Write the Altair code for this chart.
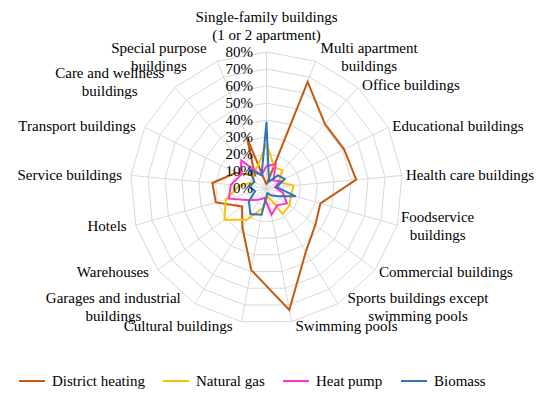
import math
import altair as alt
import pandas as pd

categories = [
    "Single-family buildings\n(1 or 2 apartment)",
    "Multi apartment\nbuildings",
    "Office buildings",
    "Educational buildings",
    "Health care buildings",
    "Foodservice\nbuildings",
    "Commercial buildings",
    "Sports buildings except\nswimming pools",
    "Swimming pools",
    "Cultural buildings",
    "Garages and industrial\nbuildings",
    "Warehouses",
    "Hotels",
    "Service buildings",
    "Transport buildings",
    "Care and wellness\nbuildings",
    "Special purpose\nbuildings",
]
series_names = ["District heating", "Natural gas", "Heat pump", "Biomass"]
district_heating = [2, 67, 51, 51, 53, 33, 36, 44, 73, 49, 27, 18, 31, 32, 20, 10, 32]
natural_gas = [26, 13, 14, 8, 16, 15, 17, 18, 5, 12, 22, 31, 25, 16, 8, 12, 14]
heat_pump = [13, 15, 6, 9, 5, 10, 15, 12, 16, 6, 8, 12, 23, 21, 17, 22, 8]
biomass = [39, 4, 10, 12, 6, 18, 8, 5, 3, 16, 18, 13, 7, 10, 8, 15, 8]
tick_values = [0, 10, 20, 30, 40, 50, 60, 70, 80]
colors = ["#C55A11", "#FFC000", "#FF33CC", "#2E75B6"]

N = len(categories)
W, H = 534, 381
CX, CY = 258.5, 180.0
PX = 1.7  # pixels per percent
RMAX = 80
FONT = "Liberation Serif"
FS = 15
LH = 18

xs = alt.Scale(domain=[-CX / PX, (W - CX) / PX], nice=False, zero=False)
ys = alt.Scale(domain=[-(H - CY) / PX, CY / PX], nice=False, zero=False)

rows = []
for name, vals in zip(series_names, [district_heating, natural_gas, heat_pump, biomass]):
    for k in range(N + 1):
        rows.append({"series": name, "idx": k, "value": vals[k % N]})
sdf = pd.DataFrame(rows)

ring_rows = []
for t in tick_values[1:]:
    for k in range(N + 1):
        ring_rows.append({"ring": t, "idx": k})
rdf = pd.DataFrame(ring_rows)

spoke_df = pd.DataFrame({"idx": list(range(N))})

ang = f"2*PI*datum.idx/{N}"

rings = alt.Chart(rdf).mark_line(color="#D9D9D9", strokeWidth=1).transform_calculate(
    x=f"datum.ring*sin({ang})", y=f"datum.ring*cos({ang})"
).encode(
    x=alt.X("x:Q", scale=xs, axis=None),
    y=alt.Y("y:Q", scale=ys, axis=None),
    detail="ring:N",
    order="idx:Q",
)

spokes = alt.Chart(spoke_df).mark_rule(color="#D9D9D9", strokeWidth=1).transform_calculate(
    x0="0", y0="0", x=f"{RMAX}*sin({ang})", y=f"{RMAX}*cos({ang})"
).encode(
    x=alt.X("x0:Q", scale=xs, axis=None),
    y=alt.Y("y0:Q", scale=ys, axis=None),
    x2="x:Q",
    y2="y:Q",
)

lines = alt.Chart(sdf).mark_line(strokeWidth=2, strokeJoin="miter").transform_calculate(
    x=f"datum.value*sin({ang})", y=f"datum.value*cos({ang})"
).encode(
    x=alt.X("x:Q", scale=xs, axis=None),
    y=alt.Y("y:Q", scale=ys, axis=None),
    color=alt.Color(
        "series:N",
        scale=alt.Scale(domain=series_names, range=colors),
        sort=series_names,
        legend=alt.Legend(
            title=None,
            orient="none",
            direction="horizontal",
            legendX=10,
            legendY=359,
            symbolType="stroke",
            symbolSize=676,
            symbolStrokeWidth=2,
            labelFont=FONT,
            labelFontSize=FS,
            labelColor="#000000",
            labelOffset=6,
            columnPadding=14,
        ),
    ),
    detail="series:N",
    order="idx:Q",
)

tdf = pd.DataFrame({"t": tick_values, "lab": [f"{t}%" for t in tick_values]})
ticks = alt.Chart(tdf).mark_text(
    align="right", baseline="middle", font=FONT, fontSize=FS, color="#000000"
).transform_calculate(x=f"-13.5/{PX}").encode(
    x=alt.X("x:Q", scale=xs, axis=None),
    y=alt.Y("t:Q", scale=ys, axis=None),
    text="lab:N",
)

lab_rows = []
for i, c in enumerate(categories):
    th = 2 * math.pi * i / N
    s, co = math.sin(th), math.cos(th)
    vx, vy = RMAX * PX * s, -RMAX * PX * co
    lines_ = c.split("\n")
    nl = len(lines_)
    wid = max(len(l) for l in lines_) * 6.6
    if abs(s) < 0.1:
        px, py, al = vx, vy - 26, "center"
    else:
        side = 1 if s > 0 else -1
        gap = 4 if side > 0 else 9
        dy = -4 * co
        if i == 15:
            dy -= 3
        if nl > 1:
            px, al = vx + side * (gap + wid / 2), "center"
        else:
            px, al = vx + side * gap, ("left" if side > 0 else "right")
        py = vy + dy
    py -= (nl - 1) * LH / 2
    lab_rows.append({"label": c, "x": px / PX, "y": -py / PX, "align": al})
ldf = pd.DataFrame(lab_rows)


def label_layer(al):
    return alt.Chart(ldf[ldf["align"] == al]).mark_text(
        align=al, baseline="middle", font=FONT, fontSize=FS, color="#000000",
        lineBreak="\n", lineHeight=LH,
    ).encode(
        x=alt.X("x:Q", scale=xs, axis=None),
        y=alt.Y("y:Q", scale=ys, axis=None),
        text="label:N",
    )


chart = alt.layer(
    rings, spokes, lines, ticks,
    label_layer("center"), label_layer("left"), label_layer("right"),
).properties(
    width=W, height=H, padding=0,
    autosize=alt.AutoSizeParams(type="none"),
    background="#FFFFFF",
).configure_view(stroke=None)

chart.save("out.html", embed_options={"renderer": "svg", "actions": False})
